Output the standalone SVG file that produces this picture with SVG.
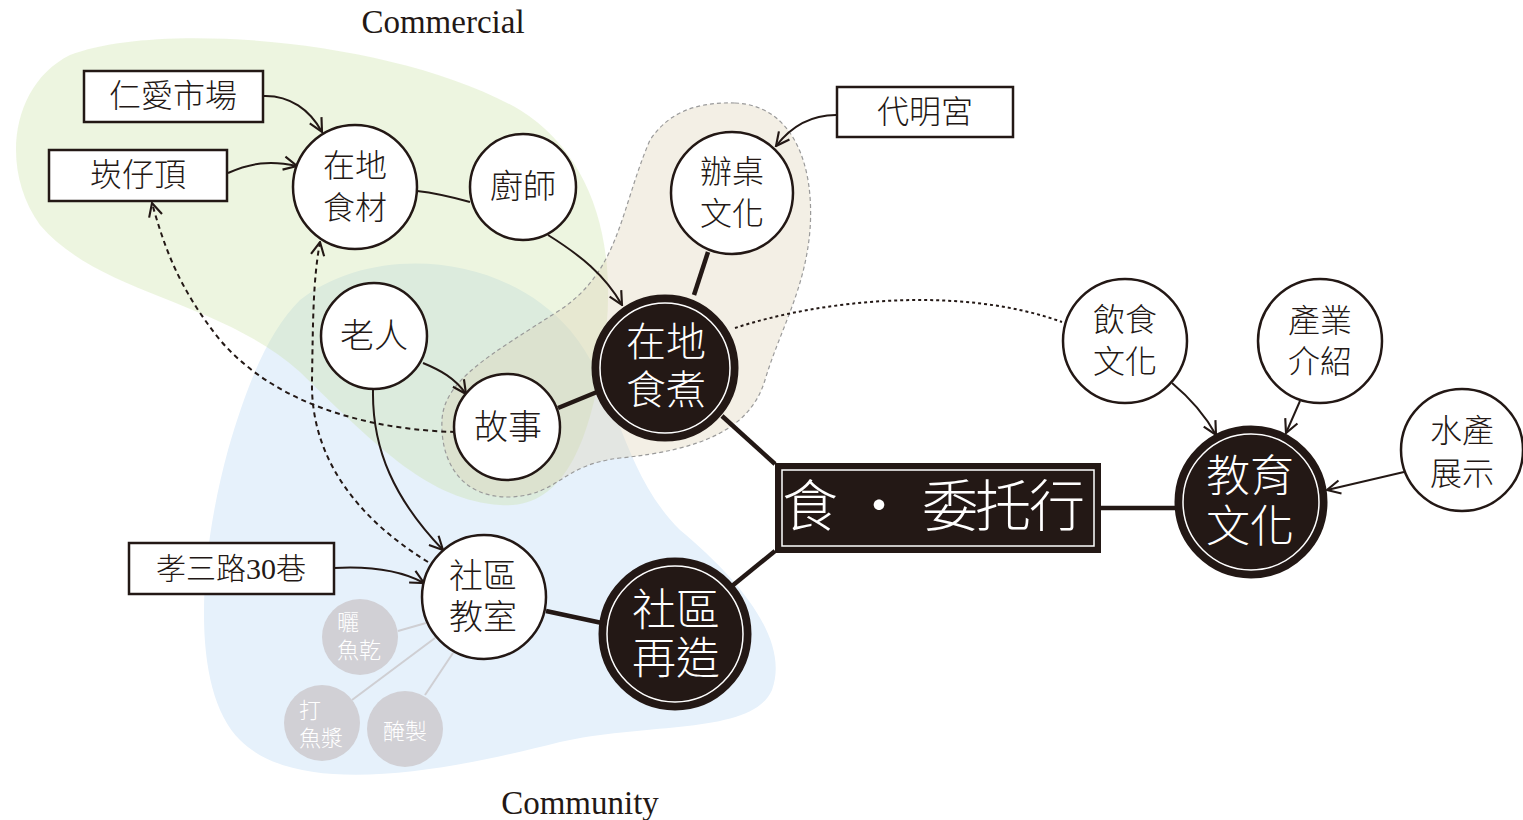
<svg xmlns="http://www.w3.org/2000/svg" width="1523" height="820" viewBox="0 0 1523 820">
<style>
.cjk{font-family:"Liberation Serif","Noto Sans CJK TC",serif;fill:#231815;text-anchor:middle;dominant-baseline:central;font-weight:300}
.wt{fill:#ffffff}
.wn{fill:#ffffff;stroke:#231815;stroke-width:2.5}
.bn{fill:#231815;stroke:#231815;stroke-width:3}
.ring{fill:none;stroke:#ffffff;stroke-width:1.5}
.bx{fill:#ffffff;stroke:#231815;stroke-width:2.5}
.gn{fill:#d1d0d5}
.gt{font-family:"Liberation Serif","Noto Sans CJK TC",serif;fill:#ffffff;font-size:22px;font-weight:300;dominant-baseline:central}
.ln{fill:none;stroke:#231815;stroke-width:2}
.thick{fill:none;stroke:#231815;stroke-width:4.5}
.dash{fill:none;stroke:#231815;stroke-width:2;stroke-dasharray:5 4}
.dot{fill:none;stroke:#231815;stroke-width:2;stroke-dasharray:3 3}
.glt{fill:none;stroke:#cfcfd3;stroke-width:2}
.lbl{font-family:"Liberation Serif",serif;font-size:33px;fill:#231815;text-anchor:middle}
</style>
<defs>
<marker id="arr" markerUnits="userSpaceOnUse" markerWidth="16" markerHeight="16" viewBox="0 0 12 12" refX="11" refY="6" orient="auto">
<path d="M1,1 L11,6 L1,11" fill="none" stroke="#231815" stroke-width="1.6"/>
</marker>
</defs>
<rect width="1523" height="820" fill="#ffffff"/>
<g id="regions">
<path id="community-region" d="M 300,300 C 370,245 500,250 570,330 C 620,390 620,470 680,530 C 740,580 790,640 772,690 C 752,735 650,722 560,742 C 450,770 300,800 240,740 C 190,690 198,560 228,450 C 248,380 270,330 300,300 Z" fill="#e6f1fb"/>
<path id="commercial-region" d="M 70,55 C 160,20 400,40 520,110 C 600,160 620,260 602,360 C 588,450 560,510 500,505 C 430,500 380,450 300,372 C 220,300 100,295 40,225 C 0,170 10,85 70,55 Z" fill="#c8e0a0" fill-opacity="0.33"/>
<path id="cooking-region" d="M 735,103 C 790,105 815,160 810,230 C 805,290 780,330 765,380 C 750,430 700,450 620,458 C 560,465 560,495 510,497 C 460,498 440,460 442,420 C 444,380 490,355 560,310 C 620,270 620,210 650,140 C 670,110 700,102 735,103 Z" fill="#ddd3b8" fill-opacity="0.36" stroke="#9a9a9a" stroke-width="1.2" stroke-dasharray="4 3"/>
<text class="lbl" x="443" y="33">Commercial</text>
<text class="lbl" x="580" y="814">Community</text>
</g>
<g id="connectors">
<path class="ln" d="M 263,96 C 290,95 310,110 322,132" marker-end="url(#arr)"/>
<path class="ln" d="M 228,173 C 250,163 270,160 297,166" marker-end="url(#arr)"/>
<path class="ln" d="M 417,191 C 435,193 452,197 470,202"/>
<path class="ln" d="M 548,235 C 580,255 605,275 622,305" marker-end="url(#arr)"/>
<path class="ln" d="M 836,115 C 810,115 790,128 776,146" marker-end="url(#arr)"/>
<path class="thick" d="M 708,252 L 694,295"/>
<path class="thick" d="M 558,408 L 597,392"/>
<path class="ln" d="M 423,363 C 440,370 455,378 466,394" marker-end="url(#arr)"/>
<path class="ln" d="M 373,390 C 372,450 395,500 443,550" marker-end="url(#arr)"/>
<path class="dash" d="M 455,432 C 380,430 280,410 220,340 C 180,290 165,250 152,203" marker-end="url(#arr)"/>
<path class="dash" d="M 428,562 C 360,520 310,460 312,380 C 313,320 313,280 320,242" marker-end="url(#arr)"/>
<path class="ln" d="M 334,568 C 370,566 400,570 424,583" marker-end="url(#arr)"/>
<path class="glt" d="M 426,623 L 398,631"/>
<path class="glt" d="M 435,638 L 352,700"/>
<path class="glt" d="M 453,653 L 425,695"/>
<path class="thick" d="M 546,611 L 602,623"/>
<path class="thick" d="M 732,586 L 775,551"/>
<path class="thick" d="M 722,416 L 775,464"/>
<path class="thick" d="M 1101,508 L 1177,508"/>
<path class="dot" d="M 735,328 C 820,300 960,285 1062,322"/>
<path class="ln" d="M 1172,383 C 1190,398 1205,415 1216,435" marker-end="url(#arr)"/>
<path class="ln" d="M 1300,401 L 1286,433" marker-end="url(#arr)"/>
<path class="ln" d="M 1404,472 L 1327,490" marker-end="url(#arr)"/>
</g>
<g id="n-renai">
<rect class="bx" x="84" y="71" width="179" height="51"/>
<text class="cjk" x="173" y="96" font-size="32">仁愛市場</text>
</g>
<g id="n-kanaiding">
<rect class="bx" x="49" y="150" width="178" height="51"/>
<text class="cjk" x="138" y="175" font-size="32">崁仔頂</text>
</g>
<g id="n-daiminggong">
<rect class="bx" x="837" y="87" width="176" height="50"/>
<text class="cjk" x="925" y="112" font-size="32">代明宮</text>
</g>
<g id="n-xiaosan">
<rect class="bx" x="129" y="543" width="205" height="51"/>
<text class="cjk" x="231" y="568" font-size="30">孝三路30巷</text>
</g>
<g id="n-shicai">
<circle class="wn" cx="355" cy="187" r="62"/>
<text class="cjk" x="355" y="166" font-size="32">在地</text>
<text class="cjk" x="355" y="208" font-size="32">食材</text>
</g>
<g id="n-chushi">
<circle class="wn" cx="523" cy="187" r="53"/>
<text class="cjk" x="523" y="187" font-size="33">廚師</text>
</g>
<g id="n-banzhuo">
<circle class="wn" cx="732" cy="193" r="61"/>
<text class="cjk" x="732" y="172" font-size="32">辦桌</text>
<text class="cjk" x="732" y="214" font-size="32">文化</text>
</g>
<g id="n-laoren">
<circle class="wn" cx="374" cy="336" r="53"/>
<text class="cjk" x="374" y="336" font-size="34">老人</text>
</g>
<g id="n-gushi">
<circle class="wn" cx="507" cy="427" r="53"/>
<text class="cjk" x="508" y="427" font-size="34">故事</text>
</g>
<g id="n-shizhu">
<circle class="bn" cx="665" cy="368" r="72"/>
<circle class="ring" cx="665" cy="368" r="65"/>
<text class="cjk wt" x="666" y="342" font-size="40">在地</text>
<text class="cjk wt" x="666" y="390" font-size="40">食煮</text>
</g>
<g id="n-main">
<rect x="775" y="463" width="326" height="90" fill="#231815"/>
<rect x="782" y="470" width="312" height="76" fill="none" stroke="#ffffff" stroke-width="1.5"/>
<text class="cjk wt" y="507" font-size="56"><tspan x="810">食</tspan><tspan x="879">・</tspan><tspan x="950">委</tspan><tspan x="1003">托</tspan><tspan x="1057">行</tspan></text>
</g>
<g id="n-yinshi">
<circle class="wn" cx="1125" cy="341" r="62"/>
<text class="cjk" x="1125" y="320" font-size="32">飲食</text>
<text class="cjk" x="1125" y="362" font-size="32">文化</text>
</g>
<g id="n-chanye">
<circle class="wn" cx="1320" cy="341" r="62"/>
<text class="cjk" x="1320" y="321" font-size="32">產業</text>
<text class="cjk" x="1320" y="362" font-size="32">介紹</text>
</g>
<g id="n-shuichan">
<circle class="wn" cx="1462" cy="450" r="61"/>
<text class="cjk" x="1462" y="431" font-size="32">水產</text>
<text class="cjk" x="1462" y="474" font-size="32">展示</text>
</g>
<g id="n-jiaoyu">
<circle class="bn" cx="1251" cy="502" r="75"/>
<circle class="ring" cx="1251" cy="502" r="68"/>
<text class="cjk wt" x="1250" y="477" font-size="44">教育</text>
<text class="cjk wt" x="1250" y="527" font-size="44">文化</text>
</g>
<g id="n-jiaoshi">
<circle class="wn" cx="484" cy="597" r="62"/>
<text class="cjk" x="483" y="576" font-size="34">社區</text>
<text class="cjk" x="483" y="617" font-size="34">教室</text>
</g>
<g id="n-zaizao">
<circle class="bn" cx="675" cy="634" r="75"/>
<circle class="ring" cx="675" cy="634" r="68"/>
<text class="cjk wt" x="676" y="611" font-size="44">社區</text>
<text class="cjk wt" x="676" y="659" font-size="44">再造</text>
</g>
<g id="n-shaiyu">
<circle class="gn" cx="360" cy="637" r="38"/>
<text class="gt" x="337" y="622">曬</text>
<text class="gt" x="337" y="650">魚乾</text>
</g>
<g id="n-dayujiang">
<circle class="gn" cx="322" cy="723" r="38"/>
<text class="gt" x="299" y="710">打</text>
<text class="gt" x="299" y="738">魚漿</text>
</g>
<g id="n-yanzhi">
<circle class="gn" cx="405" cy="729" r="38"/>
<text class="gt" x="405" y="731" text-anchor="middle">醃製</text>
</g>
</svg>
